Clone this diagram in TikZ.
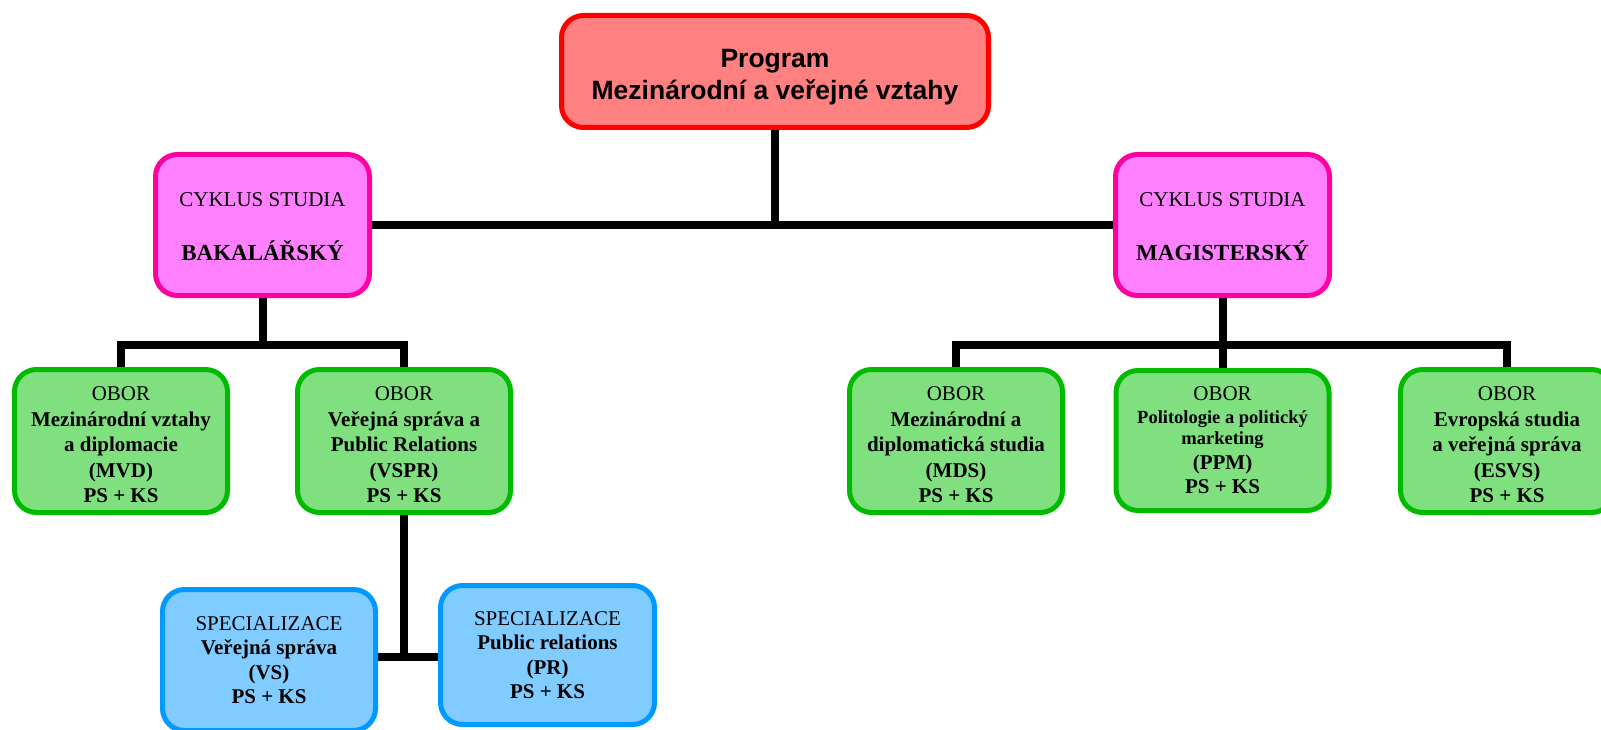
\documentclass[tikz,border=0pt]{standalone}
\usepackage{fontspec}
\setmainfont{Liberation Serif}
\newfontfamily\arialfont{Liberation Sans}
\usetikzlibrary{backgrounds}
\definecolor{progfill}{HTML}{FF8080}
\definecolor{progline}{HTML}{FF0000}
\definecolor{cykfill}{HTML}{FF80FF}
\definecolor{cykline}{HTML}{FF00A0}
\definecolor{obfill}{HTML}{80E080}
\definecolor{obline}{HTML}{00BB00}
\definecolor{spfill}{HTML}{80CBFF}
\definecolor{spline}{HTML}{0099FF}
\newcommand{\obtop}{\rule{0pt}{22pt}OBOR}
\begin{document}
\begin{tikzpicture}[x=1pt,y=-1pt,
  box/.style={draw, line width=5pt, rounded corners=22pt, align=center, inner sep=0pt, text=black},
  progbox/.style={box, fill=progfill, draw=progline, minimum width=427pt, minimum height=112pt,
    font=\arialfont\bfseries\fontsize{26.5}{32}\selectfont},
  cykbox/.style={box, fill=cykfill, draw=cykline, minimum width=214pt, minimum height=141pt,
    font=\fontsize{21}{54}\selectfont},
  oborbox/.style={box, fill=obfill, draw=obline, minimum width=213pt, minimum height=143pt,
    font=\fontsize{21}{25.5}\selectfont},
  specbox/.style={box, fill=spfill, draw=spline, minimum width=213pt, minimum height=141pt,
    font=\fontsize{21}{24.5}\selectfont},
  conn/.style={line width=8pt, draw=black}
]
\useasboundingbox (0,0) rectangle (1601,730);
\clip (0,0) rectangle (1601,730);

\node[progbox] (prog) at (775,71.5) {\rule{0pt}{29pt}Program\\Mezinárodní a veřejné vztahy};

\node[cykbox] (bak) at (262.5,225) {\rule{0pt}{18pt}CYKLUS STUDIA\\{\fontsize{23}{54}\selectfont\bfseries BAKALÁŘSKÝ}};
\node[cykbox] (mag) at (1222.5,225) {\rule{0pt}{18pt}CYKLUS STUDIA\\{\fontsize{23}{54}\selectfont\bfseries MAGISTERSKÝ}};

\node[oborbox] (mvd) at (121,441) {\obtop\\\textbf{Mezinárodní vztahy}\\\textbf{a diplomacie}\\\textbf{(MVD)}\\\textbf{PS + KS}};
\node[oborbox] (vspr) at (404,441) {\obtop\\\textbf{Veřejná správa a}\\\textbf{Public Relations}\\\textbf{(VSPR)}\\\textbf{PS + KS}};
\node[oborbox] (mds) at (956,441) {\obtop\\\textbf{Mezinárodní a}\\\textbf{diplomatická studia}\\\textbf{(MDS)}\\\textbf{PS + KS}};
\node[oborbox, minimum height=140pt, font=\fontsize{21}{24.5}\selectfont] (ppm) at (1222.5,440.5) {OBOR\\[-2pt]{\fontsize{18.5}{21}\selectfont\bfseries Politologie a politický}\\[-3pt]{\fontsize{18.5}{21}\selectfont\bfseries marketing}\\\textbf{(PPM)}\\\textbf{PS + KS}};
\node[oborbox] (esvs) at (1507,441) {\obtop\\\textbf{Evropská studia}\\\textbf{a veřejná správa}\\\textbf{(ESVS)}\\\textbf{PS + KS}};

\node[specbox] (vs) at (269,660) {SPECIALIZACE\\\textbf{Veřejná správa}\\\textbf{(VS)}\\\textbf{PS + KS}};
\node[specbox, minimum width=214pt, minimum height=139pt] (pr) at (547.5,655) {SPECIALIZACE\\\textbf{Public relations}\\\textbf{(PR)}\\\textbf{PS + KS}};

\coordinate (bj) at (262.5,345);
\coordinate (mj) at (1222.5,345);
\coordinate (sj) at (404,657);

\begin{scope}[on background layer]
  \draw[conn] (prog.south) -- (prog.south |- bak.east);
  \draw[conn] (bak.east) -- (mag.west);
  \draw[conn] (bak.south) -- (bj);
  \draw[conn] (mvd.north) |- (bj) -| (vspr.north);
  \draw[conn] (mag.south) -- (ppm.north);
  \draw[conn] (mds.north) |- (mj) -| (esvs.north);
  \draw[conn] (vspr.south) -- (sj);
  \draw[conn] (vs.east |- sj) -- (pr.west |- sj);
\end{scope}
\end{tikzpicture}
\end{document}
